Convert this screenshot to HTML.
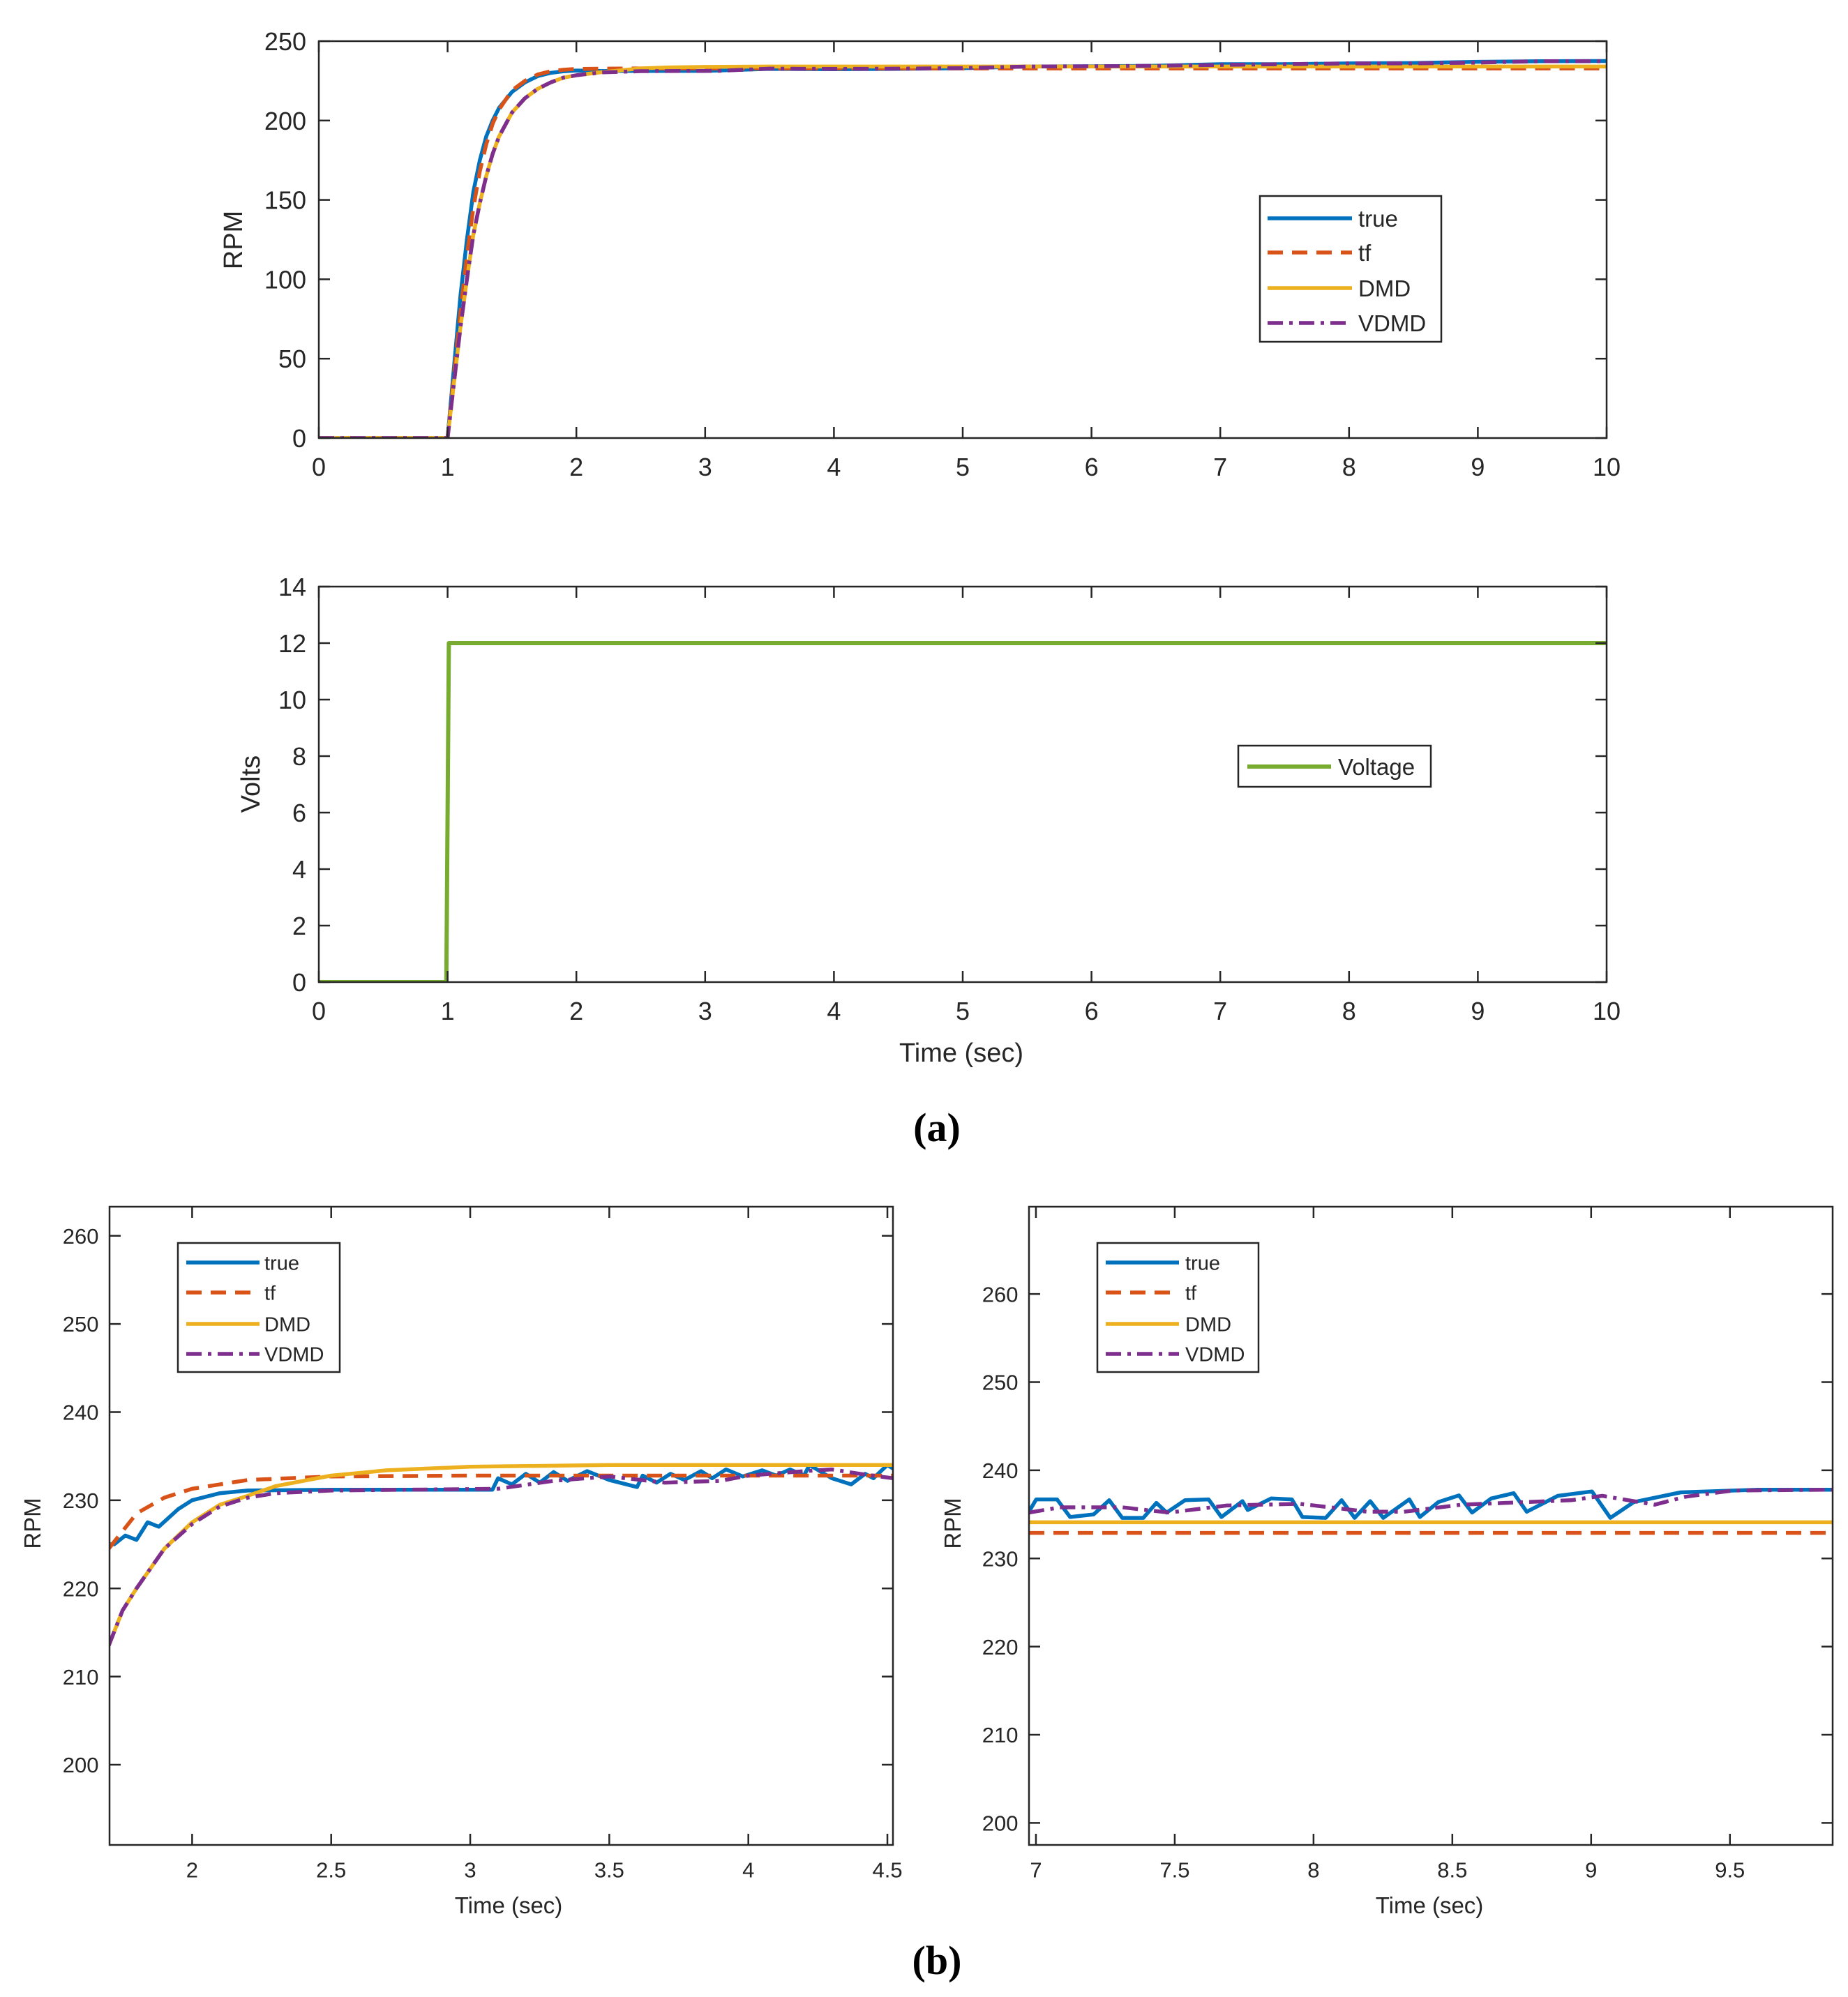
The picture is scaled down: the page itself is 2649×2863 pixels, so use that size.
<!DOCTYPE html>
<html><head><meta charset="utf-8">
<style>
html,body{margin:0;padding:0;background:#fff;}
svg{display:block;}
text{font-family:"Liberation Sans",sans-serif;fill:#262626;}
</style></head>
<body>
<svg id="fig" xmlns="http://www.w3.org/2000/svg" width="2649" height="2863" viewBox="0 0 2649 2863">
<rect x="0" y="0" width="2649" height="2863" fill="#fff"/>
<g id="root"></g>
<text x="1343" y="1636" text-anchor="middle" style="font-family:'Liberation Serif',serif;font-weight:bold;font-size:58px;fill:#000">(a)</text>
<text x="1343" y="2830" text-anchor="middle" style="font-family:'Liberation Serif',serif;font-weight:bold;font-size:58px;fill:#000">(b)</text>
</svg>
<script>
// ---------- data: top RPM chart ----------
const topTrueT = [0,1,1.05,1.1,1.15,1.2,1.25,1.3,1.35,1.4,1.5,1.6,1.7,1.8,1.9,2.0,2.2,2.5,3,3.5,4,4.5,5,5.5,6,6.5,7,7.5,8,8.5,9,9.5,10];
const topTrueV = [0,0,45,90,125,155,175,190,200,208,218,224,228,230,231,231.5,231.2,231.2,231.3,232.5,232.3,232.5,233,234,234.2,234.5,235.5,235.5,236,236.2,237,237.4,237.5];
const topTfT = [0,1,1.05,1.1,1.15,1.2,1.25,1.3,1.35,1.4,1.5,1.6,1.7,1.8,1.9,2.0,2.2,2.5,3,10];
const topTfV = [0,0,40,80,115,145,168,185,198,207,219,225,229,231,232,232.5,232.7,232.8,232.8,232.8];
const topDmdT = [0,1,1.05,1.1,1.15,1.2,1.25,1.3,1.35,1.4,1.5,1.6,1.7,1.8,1.9,2.0,2.2,2.5,2.7,3,3.5,10];
const topDmdV = [0,0,35,70,100,128,148,165,179,190,205,214,220,224,227,228.5,230.5,232.8,233.4,233.8,234,234];
const topVdmdT = [0,1,1.05,1.1,1.15,1.2,1.25,1.3,1.35,1.4,1.5,1.6,1.7,1.8,1.9,2.0,2.2,2.5,3.1,3.5,4,4.5,5,5.5,6,6.5,7,7.5,8,8.5,9,9.5,10];
const topVdmdV = [0,0,35,70,100,128,148,165,179,190,205,214,220,224,227,228.5,230.3,231.1,231.3,232.7,232.5,232.7,233,234,234.2,234.5,235,235.5,236,236,236.5,237.4,237.4];
// ---------- data: voltage chart ----------
const voltT = [0,0.99,1.01,10];
const voltV = [0,0,12,12];
// ---------- data: zoom left ----------
const zlTrueT = [1.7,1.72,1.76,1.8,1.84,1.88,1.95,2.0,2.1,2.2,2.5,3.08,3.1,3.15,3.2,3.25,3.3,3.35,3.42,3.5,3.6,3.62,3.67,3.72,3.77,3.83,3.87,3.92,3.98,4.05,4.1,4.15,4.2,4.22,4.3,4.37,4.42,4.45,4.5,4.52];
const zlTrueV = [225,225,226,225.5,227.5,227,229,230,230.8,231.1,231.2,231.2,232.5,231.8,233,232,233.2,232.2,233.3,232.3,231.5,232.8,232,233,232.3,233.3,232.5,233.5,232.7,233.4,232.8,233.5,232.8,234,232.5,231.8,233,232.5,234,233.6];
const zlTfT = [1.7,1.8,1.9,2.0,2.2,2.5,3,4.52];
const zlTfV = [224.5,228.5,230.3,231.3,232.3,232.7,232.8,232.8];
const zlDmdT = [1.7,1.75,1.8,1.9,2.0,2.1,2.2,2.3,2.5,2.7,3,3.5,4.52];
const zlDmdV = [213.5,217.5,220,224.5,227.5,229.5,230.5,231.6,232.8,233.4,233.8,234,234];
const zlVdmdT = [1.7,1.75,1.8,1.9,2.0,2.1,2.2,2.3,2.5,3.1,3.3,3.5,3.7,3.9,4.0,4.2,4.3,4.4,4.52];
const zlVdmdV = [213.5,217.5,220,224.5,227.3,229.3,230.3,230.8,231.1,231.3,232.2,232.7,232,232.2,232.8,233.3,233.5,233,232.5];
// ---------- data: zoom right ----------
const zrTrueT = [6.975,7.001,7.076,7.123,7.208,7.264,7.311,7.387,7.434,7.471,7.537,7.622,7.668,7.744,7.763,7.847,7.922,7.96,8.044,8.101,8.148,8.204,8.251,8.345,8.383,8.45,8.524,8.571,8.64,8.721,8.768,8.88,9.003,9.069,9.154,9.323,9.6,9.87];
const zrTrueV = [235.3,236.7,236.7,234.7,235.0,236.6,234.6,234.6,236.3,235.2,236.6,236.7,234.7,236.5,235.5,236.8,236.7,234.7,234.6,236.6,234.6,236.5,234.6,236.7,234.7,236.4,237.15,235.2,236.8,237.4,235.3,237.1,237.6,234.6,236.4,237.5,237.8,237.8];
const zrTfT = [6.975,9.87];
const zrTfV = [232.9,232.9];
const zrDmdT = [6.975,9.87];
const zrDmdV = [234.1,234.1];
const zrVdmdT = [6.975,7.086,7.311,7.48,7.687,7.95,8.195,8.326,8.533,8.928,9.04,9.229,9.34,9.51,9.87];
const zrVdmdV = [235.2,235.8,235.8,235.2,236.0,236.2,235.3,235.3,236.1,236.6,237.1,236.1,237.0,237.7,237.8];
// ticks
const topYTicks = [0,50,100,150,200,250];
const xTicks10 = [0,1,2,3,4,5,6,7,8,9,10];
const voltYTicks = [0,2,4,6,8,10,12,14];
const zlXTicks = [2,2.5,3,3.5,4,4.5];
const zlXLabels = ["2","2.5","3","3.5","4","4.5"];
const zlYTicks = [200,210,220,230,240,250,260];
const zrXTicks = [7,7.5,8,8.5,9,9.5];
const zrYTicks = [200,210,220,230,240,250,260];

const NS = "http://www.w3.org/2000/svg";
const root = document.getElementById('root');
const C = {true:"#0072BD", tf:"#D95319", dmd:"#EDB120", vdmd:"#7E2F8E", volt:"#77AC30"};
const DASH = {tf:"22,13", vdmd:"22,9,5,9"};
const LW = 5.5;
function mk(tag, attrs, parent){const e=document.createElementNS(NS,tag);for(const k in attrs)e.setAttribute(k,attrs[k]);(parent||root).appendChild(e);return e;}

function axes(cfg){
  const g = mk('g',{});
  
  
  const sx = v => cfg.L + (v-cfg.x0)/(cfg.x1-cfg.x0)*(cfg.R-cfg.L);
  const sy = v => cfg.B - (v-cfg.y0)/(cfg.y1-cfg.y0)*(cfg.B-cfg.T);
  const cid = 'clip-'+cfg.name;
  const cp = mk('clipPath',{id:cid},g); mk('rect',{x:cfg.L,y:cfg.T,width:cfg.R-cfg.L,height:cfg.B-cfg.T},cp);
  const lines = mk('g',{'clip-path':'url(#'+cid+')'},g);
  cfg.series.forEach(s=>{
    const pts = s.t.map((t,i)=>sx(t).toFixed(1)+','+sy(s.v[i]).toFixed(1)).join(' ');
    const pl = mk('polyline',{points:pts,fill:'none',stroke:s.color,'stroke-width':s.w||LW,'stroke-linejoin':'round','stroke-dasharray':s.dash||'none'},lines);
    
    
  });
  const tl = 16, fs = cfg.fs;
  cfg.xt.forEach((t,i)=>{
    const x=sx(t);
    mk('line',{x1:x,y1:cfg.B,x2:x,y2:cfg.B-tl,stroke:'#262626','stroke-width':2.5},g);
    mk('line',{x1:x,y1:cfg.T,x2:x,y2:cfg.T+tl,stroke:'#262626','stroke-width':2.5},g);
    const tx = mk('text',{x:x,y:cfg.B+fs*1.5,'text-anchor':'middle','font-size':fs},g);
    tx.textContent = cfg.xl ? cfg.xl[i] : String(t);
    
    
  });
  cfg.yt.forEach(t=>{
    const y=sy(t);
    mk('line',{x1:cfg.L,y1:y,x2:cfg.L+tl,y2:y,stroke:'#262626','stroke-width':2.5},g);
    mk('line',{x1:cfg.R,y1:y,x2:cfg.R-tl,y2:y,stroke:'#262626','stroke-width':2.5},g);
    const tx = mk('text',{x:cfg.L-fs*0.5,y:y+fs*0.36,'text-anchor':'end','font-size':fs},g);
    tx.textContent = String(t);
    
    
  });
  mk('rect',{x:cfg.L,y:cfg.T,width:cfg.R-cfg.L,height:cfg.B-cfg.T,fill:'none',stroke:'#262626','stroke-width':2.5},g);
  if(cfg.ylab){
    const yl = mk('text',{x:cfg.ylab[1],y:cfg.ylab[2],'text-anchor':'middle','font-size':cfg.lfs,transform:'rotate(-90 '+cfg.ylab[1]+' '+cfg.ylab[2]+')'},g);
    yl.textContent = cfg.ylab[0];
    
    
  }
  if(cfg.xlab){
    const xl = mk('text',{x:cfg.xlab[1],y:cfg.xlab[2],'text-anchor':'middle','font-size':cfg.lfs},g);
    xl.textContent = cfg.xlab[0];
    
    
  }
  if(cfg.leg){
    const lg = cfg.leg;
    const lgG = mk('g',{},g);
    
    
    mk('rect',{x:lg.x,y:lg.y,width:lg.w,height:lg.h,fill:'#fff',stroke:'#262626','stroke-width':2.5},lgG);
    lg.items.forEach((it,i)=>{
      const y = lg.ys[i];
      const e = mk('g',{},lgG);
      
      
      mk('line',{x1:lg.l1,y1:y,x2:lg.l2,y2:y,stroke:it.color,'stroke-width':it.w||LW,'stroke-dasharray':it.dash||'none'},e);
      const t = mk('text',{x:lg.tx,y:y+lg.fs*0.36,'font-size':lg.fs},e);
      t.textContent = it.label;
    });
  }
}

const legItems = [
  {label:'true',color:C.true},
  {label:'tf',color:C.tf,dash:DASH.tf},
  {label:'DMD',color:C.dmd},
  {label:'VDMD',color:C.vdmd,dash:DASH.vdmd}
];

axes({name:'rpm-chart',L:457,R:2303,T:59,B:628,x0:0,x1:10,y0:0,y1:250,fs:36,lfs:38,
  xt:xTicks10,yt:topYTicks,ylab:['RPM',347,344],
  series:[
    {name:'true-line',t:topTrueT,v:topTrueV,color:C.true},
    {name:'tf-line',t:topTfT,v:topTfV,color:C.tf,dash:DASH.tf},
    {name:'dmd-line',t:topDmdT,v:topDmdV,color:C.dmd},
    {name:'vdmd-line',t:topVdmdT,v:topVdmdV,color:C.vdmd,dash:DASH.vdmd}],
  leg:{x:1806,y:281,w:260,h:209,l1:1817,l2:1938,tx:1947,fs:33,ys:[313,362,413,463],items:legItems}
});

axes({name:'voltage-chart',L:457,R:2303,T:841,B:1408,x0:0,x1:10,y0:0,y1:14,fs:36,lfs:38,
  xt:xTicks10,yt:voltYTicks,ylab:['Volts',372,1124],xlab:['Time (sec)',1378,1522],
  series:[{name:'voltage-line',t:voltT,v:voltV,color:C.volt,w:6}],
  leg:{x:1775,y:1069,w:276,h:59,l1:1788,l2:1908,tx:1918,fs:33,ys:[1099],items:[{label:'Voltage',color:C.volt,w:6}]}
});

axes({name:'zoom-left-chart',L:157,R:1280,T:1730,B:2645,x0:1.703,x1:4.52,y0:190.9,y1:263.3,fs:31,lfs:33,
  xt:zlXTicks,xl:zlXLabels,yt:zlYTicks,ylab:['RPM',58,2184],xlab:['Time (sec)',729,2743],
  series:[
    {name:'true-line',t:zlTrueT,v:zlTrueV,color:C.true},
    {name:'tf-line',t:zlTfT,v:zlTfV,color:C.tf,dash:DASH.tf},
    {name:'dmd-line',t:zlDmdT,v:zlDmdV,color:C.dmd},
    {name:'vdmd-line',t:zlVdmdT,v:zlVdmdV,color:C.vdmd,dash:DASH.vdmd}],
  leg:{x:255,y:1782,w:232,h:185,l1:267,l2:372,tx:379,fs:29,ys:[1810,1853,1898,1941],items:legItems}
});

axes({name:'zoom-right-chart',L:1475,R:2627,T:1730,B:2645,x0:6.975,x1:9.87,y0:197.5,y1:269.9,fs:31,lfs:33,
  xt:zrXTicks,yt:zrYTicks,ylab:['RPM',1377,2184],xlab:['Time (sec)',2049,2743],
  series:[
    {name:'true-line',t:zrTrueT,v:zrTrueV,color:C.true},
    {name:'tf-line',t:zrTfT,v:zrTfV,color:C.tf,dash:DASH.tf},
    {name:'dmd-line',t:zrDmdT,v:zrDmdV,color:C.dmd},
    {name:'vdmd-line',t:zrVdmdT,v:zrVdmdV,color:C.vdmd,dash:DASH.vdmd}],
  leg:{x:1573,y:1782,w:231,h:185,l1:1585,l2:1690,tx:1699,fs:29,ys:[1810,1853,1898,1941],items:legItems}
});
</script>
</body></html>
